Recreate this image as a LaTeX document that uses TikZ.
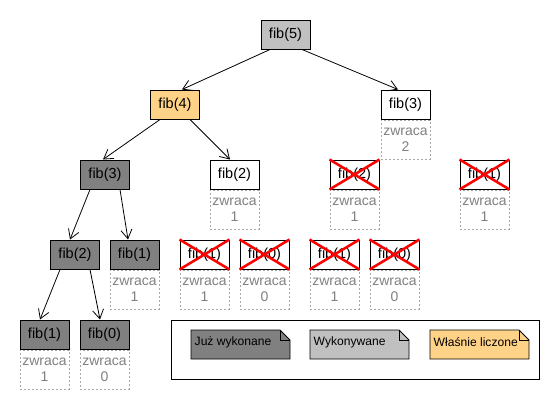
\documentclass[tikz,border=0pt]{standalone}
\usepackage{fontspec}
\setmainfont{Liberation Sans}
\usetikzlibrary{arrows.meta}
\definecolor{donegray}{HTML}{808080}
\definecolor{rungray}{HTML}{C0C0C0}
\definecolor{curorange}{HTML}{FFD387}
\definecolor{retgray}{HTML}{A8A8A8}
\definecolor{rettext}{HTML}{808080}

\begin{document}
\begin{tikzpicture}[x=1pt,y=-1pt]
        \tikzstyle{call}=[rectangle, draw, line width=1pt, fill=white, minimum width=49pt, minimum height=29pt, inner sep=0pt, font=\fontsize{14.5}{16}\selectfont]
        \tikzstyle{done}=[call, fill=donegray]
        \tikzstyle{running}=[call, fill=rungray]
        \tikzstyle{current}=[call, fill=curorange]
        \tikzstyle{ret}=[rectangle, draw=retgray, dash pattern=on 2pt off 2pt, line width=0.8pt, minimum width=49pt, minimum height=39pt, inner sep=0pt, text=rettext, align=center, anchor=north, font=\fontsize{14}{16}\selectfont]
        \tikzstyle{arr}=[-{Straight Barb[length=9pt,width=11pt]}, line width=0.8pt]
        \tikzstyle{cross}=[red, line width=2.5pt]
        \tikzstyle{note}=[draw, line width=0.8pt]

        \useasboundingbox (0,0) rectangle (560,410);

            % drzewo wywolan
            \node[running](1) at (285.5,34.5){fib(5)};
            \node[current](2) at (175,104.5){fib(4)};
            \node[call](3) at (405.5,104.5){fib(3)};

            \node[done](4) at (105,174.5){fib(3)};
            \node[call](5) at (234.5,174.5){fib(2)};
            \node[call](6) at (354.5,174.5){fib(2)};
            \node[call](7) at (484.5,174.5){fib(1)};

            \node[done](8) at (75,254.5){fib(2)};
            \node[done](9) at (134.5,254.5){fib(1)};
            \node[call](10) at (204.5,254.5){fib(1)};
            \node[call](11) at (264.5,254.5){fib(0)};
            \node[call](12) at (334.5,254.5){fib(1)};
            \node[call](13) at (394.5,254.5){fib(0)};

            \node[done](14) at (44.5,334.5){fib(1)};
            \node[done](15) at (104.5,334.5){fib(0)};

            % zwracane wartosci
            \foreach \n/\v in {3/2,5/1,6/1,7/1,9/1,10/1,11/0,12/1,13/0,14/1,15/0}
            \node[ret](r\n) at (\n.south){zwraca\\\v};

            % pominiete wywolania
            \foreach \n in {6,7,10,11,12,13}
            \draw[cross] (\n.north west) -- (\n.south east) (\n.north east) -- (\n.south west);

            \foreach \from/\to/\a/\b in {1/2/-15.5/7,1/3/16.5/-7.5,2/4/-15/-2,2/5/15/-4.5,4/8/-15/-5,4/9/15/-6.5,8/14/-15/-4.5,8/15/15/-4.5}
            \draw[arr] ([xshift=\a pt]\from.south) -- ([xshift=\b pt]\to.north);

            % legenda
            \draw[line width=0.8pt] (171,320) rectangle (539,379);
            \foreach \x/\c/\t in {191/donegray/Już wykonane,310/rungray/Wykonywane,430/curorange/Właśnie liczone}
            {
            \draw[note, fill=\c] (\x,330) -- (\x+89,330) -- (\x+99,340) -- (\x+99,359) -- (\x,359) -- cycle;
            \draw[note] (\x+89,330) -- (\x+89,340) -- (\x+99,340);
            \node[anchor=west, inner sep=0pt, font=\fontsize{12.1}{14}\selectfont] (l\x) at (\x+3.5,342) {\t};
            }

        \end{tikzpicture}
\end{document}
